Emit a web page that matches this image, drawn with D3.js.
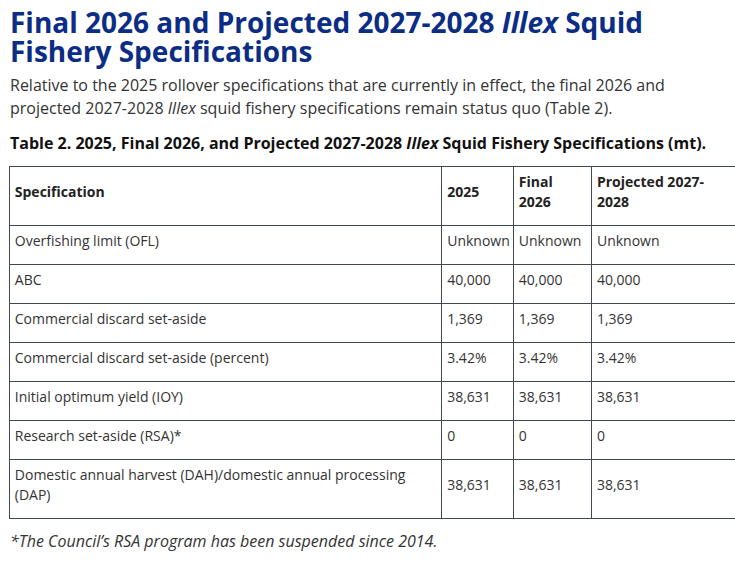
<!DOCTYPE html>
<html>
<head>
<meta charset="utf-8">
<script src="https://cdn.jsdelivr.net/npm/d3@7"></script>
<style>
  html, body { margin: 0; padding: 0; background: #fff; width: 735px; height: 562px; overflow: hidden; }
  body { position: relative; font-family: "Open Sans", sans-serif; color: #333; }
  .title { position: absolute; left: 10px; top: 8.2px; margin: 0; font-size: 28px; line-height: 28.5px; font-weight: 700; color: #0b2d85; white-space: nowrap; }
  .intro { position: absolute; left: 10px; top: 73.5px; margin: 0; font-size: 16px; line-height: 23.6px; color: #333; width: 700px; }
  .caption { position: absolute; left: 10px; top: 130.8px; margin: 0; font-size: 16px; line-height: 24px; font-weight: 700; color: #111; white-space: nowrap; }
  table.spec { position: absolute; left: 8.8px; top: 166.2px; border-collapse: collapse; table-layout: fixed; font-size: 14px; color: #333; }
  table.spec td, table.spec th { border: 1px solid #3e4852; padding: 5px; vertical-align: middle; text-align: left; }
  table.spec th { font-weight: 700; color: #222; }
  table.spec th:last-child { padding-right: 30px; }
  table.spec .c { margin: 0 0 8px 0; line-height: 20px; }
  .foot { position: absolute; left: 10px; top: 528.5px; margin: 0; font-size: 16px; line-height: 24px; font-style: italic; color: #333; white-space: nowrap; }
</style>
</head>
<body>
<script>
// ---- data ----
const columnHeaders = ["Specification", "2025", "Final 2026", "Projected 2027-2028"];
const specifications = [
  "Overfishing limit (OFL)",
  "ABC",
  "Commercial discard set-aside",
  "Commercial discard set-aside (percent)",
  "Initial optimum yield (IOY)",
  "Research set-aside (RSA)*",
  "Domestic annual harvest (DAH)/domestic annual processing (DAP)"
];
const rowUnits = ["mt", "mt", "mt", "pct", "mt", "mt", "mt"];
const values2025 = [null, 40000, 1369, 0.0342, 38631, 0, 38631];
const valuesFinal2026 = [null, 40000, 1369, 0.0342, 38631, 0, 38631];
const valuesProjected20272028 = [null, 40000, 1369, 0.0342, 38631, 0, 38631];

const titleHtml = "Final 2026 and Projected 2027-2028 <em>Illex</em> Squid<br>Fishery Specifications";
const introHtml = "Relative to the 2025 rollover specifications that are currently in effect, the final 2026 and projected 2027-2028 <em>Illex</em> squid fishery specifications remain status quo (Table 2).";
const captionHtml = "Table 2. 2025, Final 2026, and Projected 2027-2028 <em>Illex</em> Squid Fishery Specifications (mt).";
const footnoteText = "*The Council\u2019s RSA program has been suspended since 2014.";

// ---- layout ----
const columnWidths = [432.4, 71.6, 78.2, 160];

const fmtNum = d3.format(",");
const fmtPct = d3.format(".2%");
function fmt(v, unit) {
  if (v === null) return "Unknown";
  return unit === "pct" ? fmtPct(v) : fmtNum(v);
}

const body = d3.select("body");
body.append("h1").attr("class", "title").html(titleHtml);
body.append("p").attr("class", "intro").html(introHtml);
body.append("p").attr("class", "caption").html(captionHtml);

const rows = specifications.map((s, i) => [
  s,
  fmt(values2025[i], rowUnits[i]),
  fmt(valuesFinal2026[i], rowUnits[i]),
  fmt(valuesProjected20272028[i], rowUnits[i])
]);

const table = body.append("table").attr("class", "spec")
  .style("width", d3.sum(columnWidths) + "px");
table.append("colgroup").selectAll("col").data(columnWidths).join("col")
  .style("width", d => d + "px");

table.append("thead").append("tr").selectAll("th").data(columnHeaders).join("th")
  .append("div").attr("class", "c").text(d => d);

table.append("tbody").selectAll("tr").data(rows).join("tr")
  .selectAll("td").data(d => d).join("td")
  .append("div").attr("class", "c").text(d => d);

body.append("p").attr("class", "foot").text(footnoteText);
</script>
</body>
</html>
